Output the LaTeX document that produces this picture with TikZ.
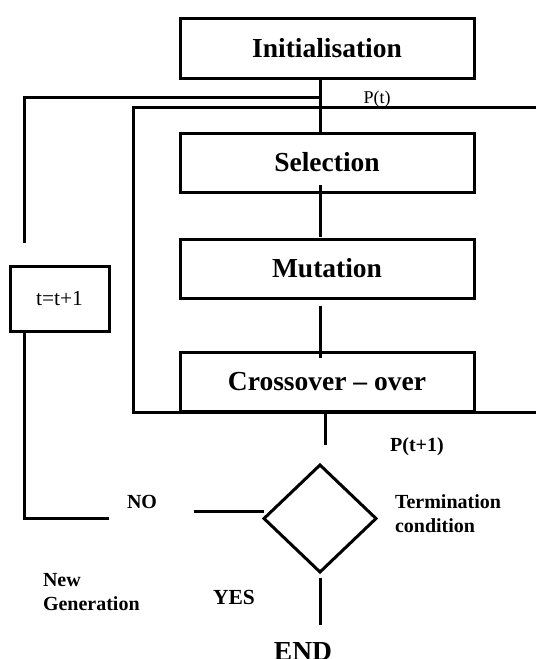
\documentclass[tikz,border=0pt]{standalone}
\usepackage{fontspec}
\setmainfont{Liberation Serif}
\usetikzlibrary{shapes.geometric}
\begin{document}
\begin{tikzpicture}[x=1pt, y=-1pt,
  every node/.style={inner sep=0pt, outer sep=0pt},
  stage/.style={draw, line width=3pt, minimum width=294pt, minimum height=59pt,
    font=\fontsize{27.5}{30}\selectfont\bfseries},
  counter/.style={draw, line width=3pt, minimum width=99pt, minimum height=65pt,
    font=\fontsize{21.5}{24}\selectfont},
  decision/.style={diamond, draw, line width=3pt, minimum width=112pt, minimum height=107pt},
  conn/.style={line width=3pt},
  smalllbl/.style={font=\fontsize{18}{21}\selectfont},
  boldlbl/.style={font=\fontsize{20}{24}\selectfont\bfseries, align=left},
  biglbl/.style={font=\fontsize{21.5}{24}\selectfont\bfseries},
  endlbl/.style={font=\fontsize{27.5}{30}\selectfont\bfseries}]
\useasboundingbox (0,0) rectangle (536,659);

% process stages
\node[stage, minimum height=60pt] (init) at (327,48) {Initialisation};
\node[stage] (sel)   at (327,162.5) {Selection};
\node[stage] (mut)   at (327,268.5) {Mutation};
\node[stage] (cross) at (327,381.5) {Crossover -- over};

% generation counter and termination test
\node[counter] (tbox) at (59.5,298.5) {t=t+1};
\node[decision] (cond) at (320,518.5) {};

% labels
\node[smalllbl, anchor=base] (pt)  at (377,103) {P(t)};
\node[boldlbl, anchor=base] (pt1) at (417,451) {P(t+1)};
\node[boldlbl, anchor=base] (no)  at (142,508) {NO};
\node[boldlbl, anchor=north west] (term) at (395,494.4) {Termination\\condition};
\node[boldlbl, anchor=north west] (newgen) at (43,573.7) {New\\Generation};
\node[biglbl, anchor=base] (yes) at (234,604) {YES};
\node[endlbl, anchor=base] (endl) at (303,660) {END};

% reference points for the connectors
\coordinate (spine)  at (320,0);
\coordinate (split)  at (320,97);
\coordinate (leftx)  at (24,0);
\coordinate (loopend) at (24,243);
\coordinate (branch) at (325,0);
\coordinate (noend)  at (194,511);

% main flow
\draw[conn] (init.south -| spine) -- (sel.north -| spine);
\draw[conn] ([yshift=7pt]sel.south -| spine) -- ([yshift=2pt]mut.north -| spine);
\draw[conn] ([yshift=-8pt]mut.south -| spine) -- ([yshift=-6pt]cross.north -| spine);

% population frame around the operators
\draw[conn, line join=miter] (536,107) -| (133,412) -- (536,412);

% new-generation loop back to the top
\draw[conn, line join=miter] (split) -| (loopend);
\draw[conn, line join=miter] (tbox.south -| leftx) -- (leftx |- 0,518) -- (109,518);
\draw[conn] (noend) -- (noend -| cond.west);

% towards the termination test and the end
\draw[conn] (branch |- 0,412) -- (branch |- 0,445);
\draw[conn] ([yshift=-6pt]cond.south) -- ++(0,47);
\end{tikzpicture}
\end{document}
